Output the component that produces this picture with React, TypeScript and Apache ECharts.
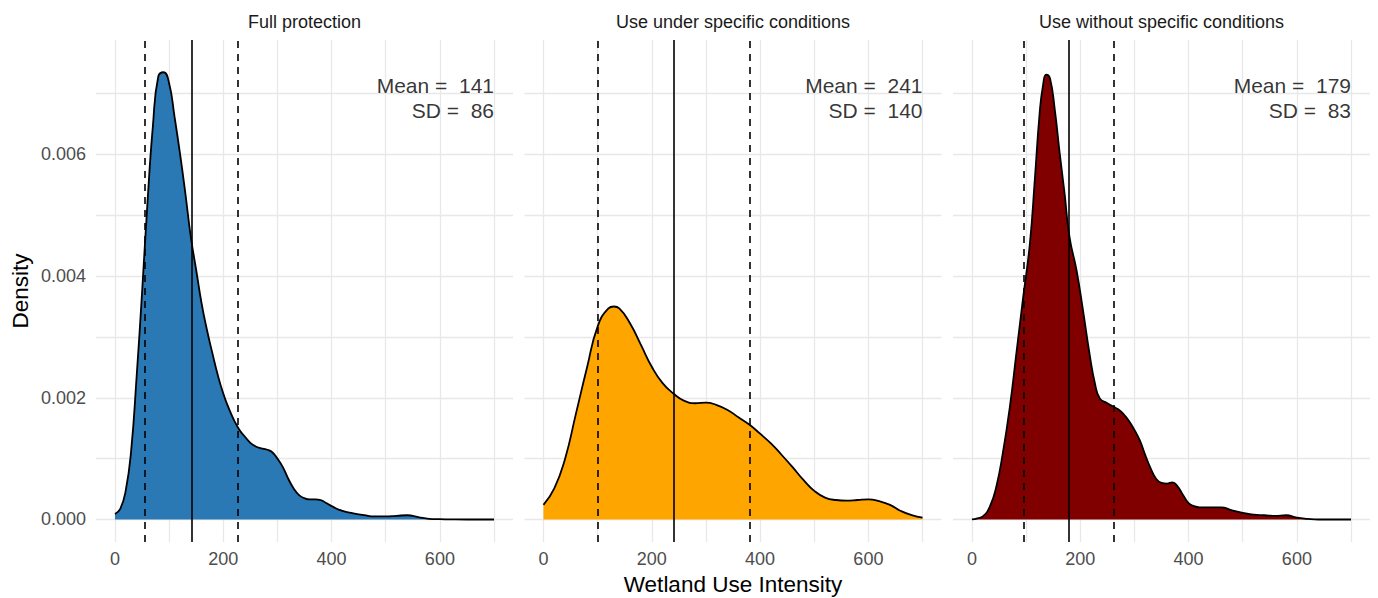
import React, { useEffect, useRef } from 'react';
import * as echarts from 'echarts';

// ---- data ----
const panelTitles = ['Full protection', 'Use under specific conditions', 'Use without specific conditions'];
const fillColors = ['#2A78B4', '#FFA500', '#800000'];
const means = [141, 241, 179];
const sds = [86, 140, 83];

const fullX = [0, 10, 20, 30, 40, 50, 60, 70, 80, 90, 100, 110, 120, 130, 140, 150, 160, 170, 180, 190, 200, 210, 220, 230, 240, 250, 260, 270, 280, 290, 300, 310, 320, 330, 340, 350, 360, 370, 380, 390, 400, 420, 440, 460, 480, 500, 520, 540, 560, 580, 600, 620, 650, 700];
const fullY = [0.00009, 0.00018, 0.00048, 0.00114, 0.00235, 0.00372, 0.0052, 0.00646, 0.00728, 0.00735, 0.00717, 0.00662, 0.00602, 0.00536, 0.00465, 0.0041, 0.00355, 0.00311, 0.00273, 0.00237, 0.00207, 0.00183, 0.00163, 0.00147, 0.00136, 0.00126, 0.0012, 0.00117, 0.00115, 0.00111, 0.001, 0.00086, 0.00067, 0.00051, 0.0004, 0.00035, 0.00033, 0.00033, 0.00032, 0.00027, 0.00022, 0.00014, 0.0001, 0.00007, 0.00005, 0.00005, 0.00006, 0.00007, 0.00004, 0.00001, 0.000005, 0.000002, 0, 0];

const condX = [0, 20, 40, 60, 80, 100, 120, 130, 140, 160, 180, 200, 220, 240, 260, 280, 300, 320, 340, 360, 380, 400, 420, 440, 460, 480, 500, 520, 540, 560, 580, 600, 620, 640, 660, 680, 700];
const condY = [0.00024, 0.00051, 0.001, 0.00174, 0.00248, 0.00317, 0.00347, 0.0035, 0.00347, 0.00322, 0.00287, 0.00251, 0.00224, 0.00207, 0.00195, 0.00191, 0.00192, 0.00188, 0.0018, 0.00168, 0.00156, 0.00141, 0.00125, 0.00106, 0.00086, 0.00065, 0.00047, 0.00036, 0.00032, 0.00031, 0.00032, 0.00033, 0.0003, 0.00024, 0.00014, 0.00007, 0.00003];

const freeX = [0, 10, 20, 33, 45, 57, 70, 82, 94, 107, 116, 125, 131, 137, 144, 153, 162, 171, 180, 193, 205, 217, 227, 236, 250, 260, 270, 280, 290, 300, 310, 320, 330, 340, 350, 360, 370, 380, 390, 400, 410, 420, 440, 460, 480, 500, 520, 540, 560, 580, 600, 620, 640, 700];
const freeY = [0, 0.00002, 0.00005, 0.00021, 0.00054, 0.00109, 0.00185, 0.00273, 0.00361, 0.00454, 0.00558, 0.00668, 0.00712, 0.00731, 0.00725, 0.00673, 0.00602, 0.00536, 0.00465, 0.0041, 0.00344, 0.00273, 0.00224, 0.00199, 0.00191, 0.00186, 0.00181, 0.00173, 0.00162, 0.00147, 0.0013, 0.00106, 0.00084, 0.00067, 0.0006, 0.00059, 0.00061, 0.00054, 0.0004, 0.00027, 0.00022, 0.0002, 0.0002, 0.0002, 0.00015, 0.00011, 0.00008, 0.00007, 0.00006, 0.00007, 0.00003, 0.00001, 0, 0];

const panelXs = [fullX, condX, freeX];
const panelYs = [fullY, condY, freeY];

const xTickLabels = [0, 200, 400, 600];
const xGridValues = [0, 100, 200, 300, 400, 500, 600, 700];
const yTickLabels = [0, 0.002, 0.004, 0.006];
const yGridValues = [0, 0.001, 0.002, 0.003, 0.004, 0.005, 0.006, 0.007];
const annotX = 700;
const annotY = 0.00692;

const FONT = '"Liberation Sans", Arial, Helvetica, sans-serif';

export default function App() {
  const ref = useRef<HTMLDivElement>(null);

  useEffect(() => {
    if (!ref.current) return;
    const chart = echarts.init(ref.current, undefined, { renderer: 'svg' });
    const lefts = [96, 524.5, 953];

    const grids = lefts.map((l) => ({ left: l, top: 40, width: 417, height: 502 }));

    const xAxes = lefts.map((_, i) => ({
      type: 'value',
      gridIndex: i,
      min: -35,
      max: 735,
      axisLine: { show: false },
      axisTick: { show: false, customValues: xGridValues },
      axisLabel: {
        customValues: xTickLabels,
        color: '#4D4D4D',
        fontSize: 18,
        fontFamily: FONT,
        margin: 8,
      },
      splitLine: { show: true, lineStyle: { color: '#E8E8E8', width: 1.3 } },
    }));

    const yAxes = lefts.map((_, i) => ({
      type: 'value',
      gridIndex: i,
      min: -0.00037,
      max: 0.00788,
      axisLine: { show: false },
      axisTick: { show: false, customValues: yGridValues },
      axisLabel: {
        show: i === 0,
        customValues: yTickLabels,
        color: '#4D4D4D',
        fontSize: 18,
        fontFamily: FONT,
        margin: 10,
        formatter: (v: number) => v.toFixed(3),
      },
      splitLine: { show: true, lineStyle: { color: '#E8E8E8', width: 1.3 } },
    }));

    const series: any[] = [];
    for (let i = 0; i < 3; i++) {
      const xs = panelXs[i];
      const ys = panelYs[i];
      series.push({
        type: 'line',
        xAxisIndex: i,
        yAxisIndex: i,
        data: xs.map((x, k) => [x, ys[k]]),
        smooth: 0.5,
        symbol: 'none',
        silent: true,
        z: 2,
        lineStyle: { color: '#000000', width: 1.8 },
        areaStyle: { color: fillColors[i], opacity: 1 },
        markLine: {
          silent: true,
          symbol: ['none', 'none'],
          label: { show: false },
          z: 5,
          data: [
            { xAxis: means[i], lineStyle: { color: '#000', width: 1.6, type: 'solid' } },
            { xAxis: means[i] - sds[i], lineStyle: { color: '#000', width: 1.6, type: [7, 6] } },
            { xAxis: means[i] + sds[i], lineStyle: { color: '#000', width: 1.6, type: [7, 6] } },
          ],
        },
      });
      series.push({
        type: 'scatter',
        xAxisIndex: i,
        yAxisIndex: i,
        silent: true,
        symbolSize: 0,
        data: [[annotX, annotY]],
        z: 6,
        label: {
          show: true,
          position: 'left',
          distance: 0,
          align: 'right',
          verticalAlign: 'middle',
          formatter: `Mean =  ${means[i]}\nSD =  ${sds[i]}`,
          fontSize: 21,
          lineHeight: 25,
          color: '#000',
          fontFamily: FONT,
        },
      });
    }

    const graphics: any[] = [];
    lefts.forEach((l, i) => {
      graphics.push({
        type: 'text',
        x: l + 417 / 2,
        y: 22,
        style: {
          text: panelTitles[i],
          fontSize: 18,
          fontFamily: FONT,
          fill: '#1A1A1A',
          align: 'center',
          verticalAlign: 'middle',
        },
      });
    });
    graphics.push({
      type: 'text',
      x: 733,
      y: 584,
      style: {
        text: 'Wetland Use Intensity',
        fontSize: 22.5,
        fontFamily: FONT,
        fill: '#000',
        align: 'center',
        verticalAlign: 'middle',
      },
    });
    graphics.push({
      type: 'text',
      x: 20,
      y: 291,
      rotation: Math.PI / 2,
      style: {
        text: 'Density',
        fontSize: 22.5,
        fontFamily: FONT,
        fill: '#000',
        align: 'center',
        verticalAlign: 'middle',
      },
    });

    chart.setOption({
      animation: false,
      backgroundColor: '#ffffff',
      grid: grids,
      xAxis: xAxes,
      yAxis: yAxes,
      series,
      graphic: graphics,
    });

    return () => chart.dispose();
  }, []);

  return (
    <div
      ref={ref}
      style={{ position: 'fixed', left: 0, top: 0, width: 1378, height: 598, background: '#fff' }}
    />
  );
}
